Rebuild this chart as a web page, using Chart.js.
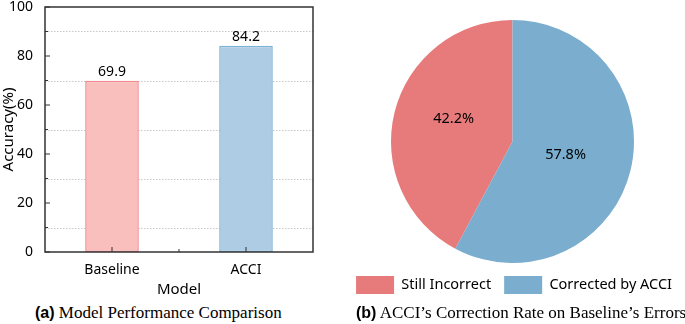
<!DOCTYPE html>
<html>
<head>
<meta charset="utf-8">
<script src="https://cdn.jsdelivr.net/npm/chart.js@4/dist/chart.umd.min.js"></script>
<style>
  body { margin: 0; background: #fff; width: 685px; height: 324px; position: relative; overflow: hidden; }
  .box { position: absolute; }
  .cap { position: absolute; top: 303px; font-family: "Liberation Serif", serif; font-size: 17px; color: #000; white-space: nowrap; }
  .cap b { font-family: "Liberation Sans", sans-serif; font-weight: bold; font-size: 16px; }
</style>
</head>
<body>
<div class="box" style="left:0;top:0;width:335px;height:303px"><canvas id="barChart"></canvas></div>
<div class="box" style="left:340px;top:0;width:345px;height:306px"><canvas id="pieChart"></canvas></div>
<div class="cap" style="left:35px"><b>(a)</b> Model Performance Comparison</div>
<div class="cap" style="left:356px"><b>(b)</b> ACCI’s Correction Rate on Baseline’s Errors</div>
<script>
// bar chart data
const models = ['Baseline', 'ACCI'];
const accuracy = [69.9, 84.2];
const yTicks = [0, 20, 40, 60, 80, 100];
const yMinor = [10, 30, 50, 70, 90];

// pie chart data
const pieLabels = ['Still Incorrect', 'Corrected by ACCI'];
const pieValues = [42.2, 57.8];

const sansFont = '"Noto Sans", sans-serif';

// dotted grid, box frame and inward ticks like the origin plot
const framePlugin = {
  id: 'frame',
  beforeDatasetsDraw(chart) {
    const ctx = chart.ctx, a = chart.chartArea, y = chart.scales.y;
    ctx.save();
    ctx.strokeStyle = '#c8c8c8';
    ctx.lineWidth = 1;
    ctx.setLineDash([1.5, 1.5]);
    yMinor.forEach(v => {
      const py = Math.round(y.getPixelForValue(v)) + 0.5;
      ctx.beginPath(); ctx.moveTo(a.left, py); ctx.lineTo(a.right, py); ctx.stroke();
    });
    ctx.restore();
  },
  afterDatasetsDraw(chart) {
    const ctx = chart.ctx, a = chart.chartArea, y = chart.scales.y, x = chart.scales.x;
    ctx.save();
    ctx.strokeStyle = '#333';
    ctx.lineWidth = 1.5;
    ctx.strokeRect(a.left, a.top, a.right - a.left, a.bottom - a.top);
    ctx.lineWidth = 1;
    yTicks.forEach(v => {
      const py = y.getPixelForValue(v);
      ctx.beginPath(); ctx.moveTo(a.left, py); ctx.lineTo(a.left + 5, py); ctx.stroke();
    });
    yMinor.forEach(v => {
      const py = y.getPixelForValue(v);
      ctx.beginPath(); ctx.moveTo(a.left, py); ctx.lineTo(a.left + 3, py); ctx.stroke();
    });
    models.forEach((m, i) => {
      const px = x.getPixelForValue(i);
      ctx.beginPath(); ctx.moveTo(px, a.bottom); ctx.lineTo(px, a.bottom - 5); ctx.stroke();
    });
    const mid = x.getPixelForValue(0.5);
    ctx.beginPath(); ctx.moveTo(mid, a.bottom); ctx.lineTo(mid, a.bottom - 3); ctx.stroke();
    // value labels on bars
    ctx.fillStyle = '#000';
    ctx.font = '14px ' + sansFont;
    ctx.textAlign = 'center';
    ctx.textBaseline = 'bottom';
    chart.getDatasetMeta(0).data.forEach((bar, i) => {
      ctx.fillText(accuracy[i].toFixed(1), bar.x, bar.y - 2);
    });
    ctx.restore();
  }
};

new Chart(document.getElementById('barChart'), {
  type: 'bar',
  data: {
    labels: models,
    datasets: [{
      data: accuracy,
      backgroundColor: ['#f8bfbc', '#aecde4'],
      borderColor: ['#f1898f', '#7fb3d5'],
      borderWidth: 1.5,
      borderSkipped: false,
      barPercentage: 0.4,
      categoryPercentage: 1
    }]
  },
  options: {
    responsive: true,
    maintainAspectRatio: false,
    animation: false,
    events: [],
    layout: { padding: { top: 0, right: 22, left: 0, bottom: 0 } },
    plugins: { legend: { display: false }, tooltip: { enabled: false } },
    scales: {
      x: {
        grid: { display: false },
        border: { display: false },
        ticks: { color: '#000', font: { family: sansFont, size: 14 }, padding: 2 },
        title: { display: true, text: 'Model', color: '#000', font: { family: sansFont, size: 15 }, padding: { top: 21 } },
        afterFit(s) { s.height = 51; }
      },
      y: {
        min: 0, max: 100,
        grid: { display: false },
        border: { display: false },
        ticks: { stepSize: 20, color: '#000', font: { family: sansFont, size: 14 }, padding: 4 },
        title: { display: true, text: 'Accuracy(%)', color: '#000', font: { family: sansFont, size: 15 }, padding: 0 },
        afterFit(s) { s.width = 45; s.paddingTop = 7; }
      }
    }
  },
  plugins: [framePlugin]
});

// percentage labels inside slices (radius fraction and small nudge per slice)
const labelRadius = [0.5, 0.45];
const labelNudgeY = [-8, 0];
const sliceLabels = {
  id: 'sliceLabels',
  afterDatasetsDraw(chart) {
    const ctx = chart.ctx;
    const total = pieValues.reduce((s, v) => s + v, 0);
    ctx.save();
    ctx.fillStyle = '#000';
    ctx.font = '14.5px ' + sansFont;
    ctx.textAlign = 'center';
    ctx.textBaseline = 'middle';
    chart.getDatasetMeta(0).data.forEach((arc, i) => {
      const mid = (arc.startAngle + arc.endAngle) / 2;
      const r = arc.outerRadius * labelRadius[i];
      ctx.fillText((pieValues[i] / total * 100).toFixed(1) + '%', arc.x + Math.cos(mid) * r, arc.y + Math.sin(mid) * r + labelNudgeY[i]);
    });
    ctx.restore();
  }
};

new Chart(document.getElementById('pieChart'), {
  type: 'pie',
  data: {
    labels: pieLabels,
    datasets: [{
      data: pieValues,
      backgroundColor: ['#e77b7b', '#7aadce'],
      borderWidth: 0
    }]
  },
  options: {
    responsive: true,
    maintainAspectRatio: false,
    animation: false,
    events: [],
    // red slice starts where the blue (corrected) share ends, measured from 12 o'clock
    rotation: pieValues[1] / (pieValues[0] + pieValues[1]) * 360,
    layout: { padding: { top: 20, bottom: 2 } },
    plugins: {
      tooltip: { enabled: false },
      legend: {
        position: 'bottom',
        align: 'end',
        labels: {
          boxWidth: 38, boxHeight: 18, padding: 13,
          color: '#000',
          font: { family: sansFont, size: 14.5 }
        }
      }
    }
  },
  plugins: [sliceLabels]
});
</script>
</body>
</html>
